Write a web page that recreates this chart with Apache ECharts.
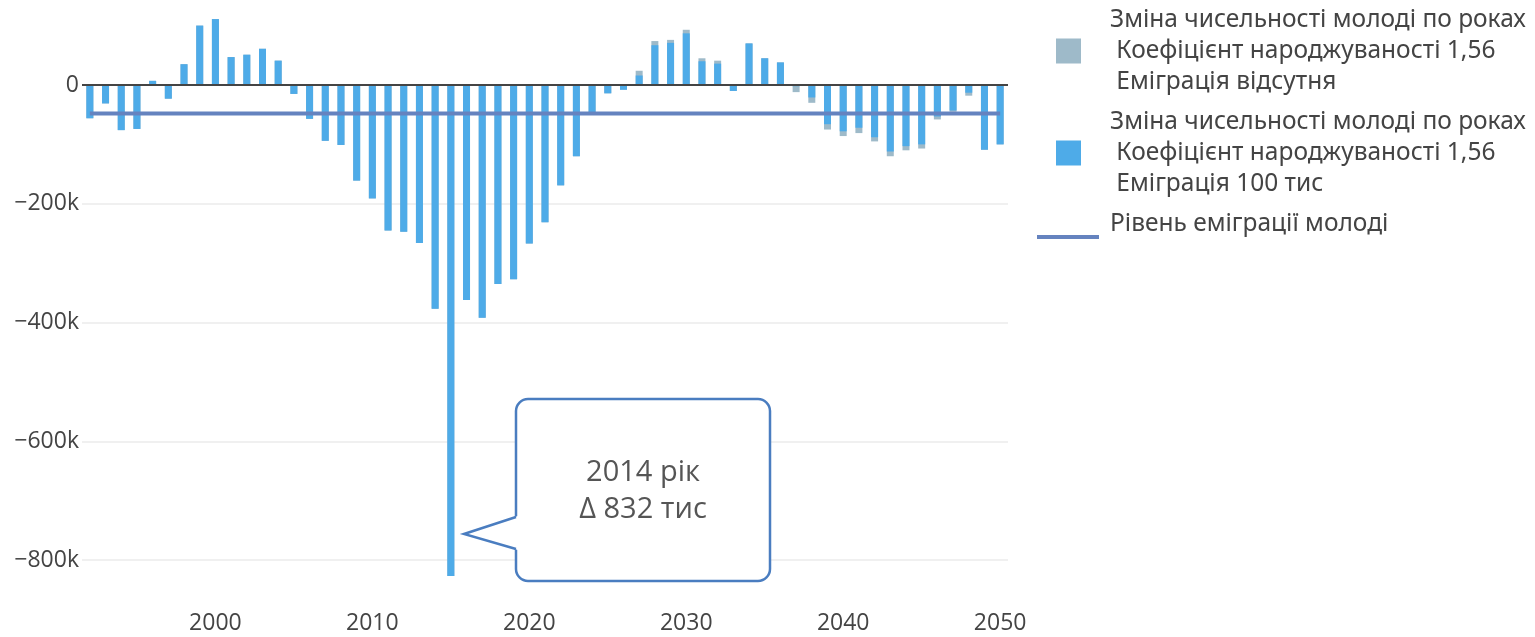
<!DOCTYPE html>
<html>
<head>
<meta charset="utf-8">
<script src="https://cdn.jsdelivr.net/npm/echarts@6/dist/echarts.min.js"></script>
<style>
html,body{margin:0;padding:0;background:#fff;}
#chart{width:1535px;height:637px;}
</style>
</head>
<body>
<div id="chart"></div>
<script>
const years = ['1992','1993','1994','1995','1996','1997','1998','1999','2000','2001','2002','2003','2004','2005','2006','2007','2008','2009','2010','2011','2012','2013','2014','2015','2016','2017','2018','2019','2020','2021','2022','2023','2024','2025','2026','2027','2028','2029','2030','2031','2032','2033','2034','2035','2036','2037','2038','2039','2040','2041','2042','2043','2044','2045','2046','2047','2048','2049','2050'];

// Зміна чисельності молоді — еміграція 100 тис
const changeEmig100 = [-56000,-31000,-76000,-74000,7000,-23000,35000,100000,111000,47000,51000,61000,41000,-15000,-57000,-94000,-101000,-161000,-191000,-245000,-247000,-266000,-377000,-827000,-362000,-392000,-335000,-327000,-267000,-231000,-169000,-120000,-46000,-14000,-8000,16000,67000,71000,87000,40000,36000,-10000,70000,45000,38000,-2000,-21000,-66000,-78000,-72000,-88000,-112000,-103000,-100000,-53000,-43000,-13000,-109000,-100000];

// Зміна чисельності молоді — еміграція відсутня
const changeNoEmig = [-56000,-31000,-76000,-74000,7000,-23000,35000,100000,111000,47000,51000,61000,41000,-15000,-57000,-94000,-101000,-161000,-191000,-245000,-247000,-266000,-377000,-827000,-362000,-392000,-335000,-327000,-267000,-231000,-169000,-120000,-46000,-14000,-8000,24000,74000,76000,93000,45000,41000,-10000,70000,45000,38000,-12000,-30000,-75000,-86000,-81000,-95000,-120000,-110000,-107000,-58000,-45000,-18000,-109000,-100000];

// Рівень еміграції молоді
const emigLevelYears = ['1992','2050'];
const emigLevel = [-48000,-48000];

const seriesNames = [
  'Зміна чисельності молоді по роках\n Коефіцієнт народжуваності 1,56\n Еміграція відсутня',
  'Зміна чисельності молоді по роках\n Коефіцієнт народжуваності 1,56\n Еміграція 100 тис',
  'Рівень еміграції молоді'
];

const annotationText = '2014 рік\nΔ 832 тис';

const FONT = "'Open Sans', 'DejaVu Sans', sans-serif";
const LEGEND_FONT = "'Noto Sans', 'Open Sans', sans-serif";
const chart = echarts.init(document.getElementById('chart'), null, {renderer:'canvas'});

const squareIcon = 'path://M0,0L0,0M19,2.5H44V27.5H19ZM68,30L68,30';
const lineIcon = 'path://M0,0L0,0M0,26H62V30H0ZM68,30L68,30';

const boxStroke = '#4a7dc0';

chart.setOption({
  animation:false,
  textStyle:{fontFamily:FONT},
  grid:{left:82, right:527, top:1.875, bottom:41.375, containLabel:false},
  legend:{
    orient:'vertical', left:1037, top:4.5, padding:0, itemGap:9,
    itemWidth:68, itemHeight:30, selectedMode:false,
    itemStyle:{borderWidth:0},
    textStyle:{fontFamily:LEGEND_FONT, fontSize:24.5, color:'#444', lineHeight:31},
    data:[
      {name:seriesNames[0], icon:squareIcon},
      {name:seriesNames[1], icon:squareIcon},
      {name:seriesNames[2], icon:lineIcon}
    ]
  },
  xAxis:{
    type:'category', data:years, boundaryGap:true,
    axisLine:{show:false}, axisTick:{show:false}, splitLine:{show:false},
    axisLabel:{
      interval:function(i, v){ return (+v) % 10 === 0; },
      fontFamily:FONT, fontSize:23, color:'#444', margin:16
    }
  },
  yAxis:{
    type:'value', min:-860000, max:140000, splitNumber:5,
    axisLine:{show:false}, axisTick:{show:false},
    splitLine:{show:true, showMinLine:false, showMaxLine:false, lineStyle:{color:'#ebebeb', width:1.5}},
    axisLabel:{
      showMinLabel:false, showMaxLabel:false,
      fontFamily:FONT, fontSize:23, color:'#444', margin:3,
      formatter:function(v){
        if (v % 200000 !== 0) return '';
        if (v === 0) return '0';
        return (v < 0 ? '\u2212' : '') + Math.abs(v/1000) + 'k';
      }
    }
  },
  series:[
    {
      name:seriesNames[0], type:'bar', data:changeNoEmig, barWidth:7, barGap:'-100%',
      itemStyle:{color:'#9ebac9', borderWidth:0}, z:2
    },
    {
      name:seriesNames[1], type:'bar', data:changeEmig100, barWidth:7, barGap:'-100%',
      itemStyle:{color:'#4eabe8', borderWidth:0}, z:3,
      markLine:{
        silent:true, symbol:['none','none'], label:{show:false},
        lineStyle:{color:'#444', width:2, type:'solid'},
        data:[{yAxis:0}]
      }
    },
    {
      name:seriesNames[2], type:'line', color:'#6583bf',
      data:emigLevelYears.map((y,i)=>[y, emigLevel[i]]),
      symbol:'none', lineStyle:{color:'#6583bf', width:4}, z:5
    }
  ],
  graphic:[
    {
      type:'rect', z:100,
      shape:{x:516, y:399, width:254, height:182, r:12},
      style:{fill:'#fff', stroke:boxStroke, lineWidth:2.5}
    },
    {
      type:'polygon', z:101,
      shape:{points:[[518,516],[464,534],[518,550]]},
      style:{fill:'#fff', stroke:null, lineWidth:0}
    },
    {
      type:'polyline', z:102,
      shape:{points:[[516,517],[464,534],[516,549]]},
      style:{fill:null, stroke:boxStroke, lineWidth:2.5, lineJoin:'miter'}
    },
    {
      type:'text', z:103, x:643, y:491.5,
      style:{text:annotationText, fontFamily:FONT, fontSize:29, fill:'#555', align:'center', verticalAlign:'middle', lineHeight:37}
    }
  ]
});
</script>
</body>
</html>
